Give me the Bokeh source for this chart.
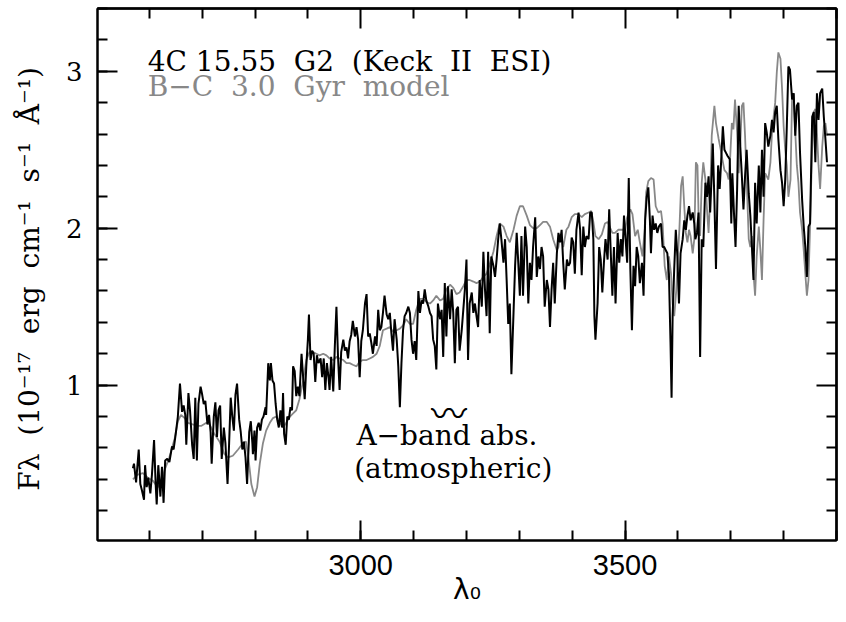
import math
from bokeh.plotting import figure
from bokeh.models import Label, LinearAxis, SingleIntervalTicker, FixedTicker, Range1d
from bokeh.embed import file_html
from bokeh.resources import INLINE

# ---------------- data ----------------
obs_wave = [2569,2571,2575,2580,2583,2586,2590,2592,2595,2598,2602,2605,2609,2612,2614,2617,2621,2624,2627,2630,
            2634,2638,2643,2646,2650,2654,2658,2662,2665,2668,2670,2674,2677,2681,2684,2687,2690,2693,2697,2700,
            2703,2706,2710,2713,2716,2718,2722,2725,2728,2731,2734,2737,2741,2744,2748,2751,2754,2757,2760,2763,
            2766,2770,2773,2776,2779,2782,2785,2789,2792,2795,
            2796,2799,2801,2804,2807,2810,2813,2816,2820,2821,2825,2828,2830,2833,2836,2839,2842,2845,2848,2851,
            2853,2855,2858,2861,2864,2867,2870,2872,2875,2878,2881,2884,2888,2891,2894,2897,2900,2902,2905,2908,
            2911,2914,2917,2920,2924,2927,2930,2933,2936,2939,2941,2944,2948,2951,2954,2957,2960,2963,2967,2970,
            2973,2976,2979,2982,2985,2989,2992,2995,2998,3001,3004,3008,3011,3014,3017,3020,3023,3027,3030,3033,
            3036,3039,3042,3045,3049,3052,3055,3058,3061,3064,3068,3071,3074,3077,3080,3083,3086,3090,3093,
            3096,3099,3102,3105,3109,3112,3115,3118,3121,3124,3128,3131,3134,3137,3140,3143,3146,3150,3153,3156,
            3159,3162,3165,3169,3172,3175,3178,3181,3184,3187,3191,3194,3197,3200,3203,3206,3210,3213,3216,3219,
            3222,3225,3229,3232,3235,3238,3241,3244,3247,3251,3254,3257,3260,3263,3266,3270,3273,3276,3279,3282,
            3285,3289,3292,3295,3298,3301,3304,3307,3311,3314,3317,3320,3323,3326,3330,3333,3336,3339,3342,3345,
            3348,3352,3355,3358,3361,3364,3367,3371,3374,3377,3380,3383,3386,
            3390,3393,3396,3399,3402,3405,3408,3412,3415,3418,3421,3424,3427,3431,3434,3437,3440,3442,3444,3448,
            3451,3454,3457,3460,3463,3467,3470,3473,3476,3479,3482,3486,3489,3492,3495,3498,3501,3504,3507,3510,
            3513,3516,3519,3522,3525,3528,3532,3535,3538,3541,3544,3547,3549,3552,3555,3558,3561,3564,3568,3571,
            3574,3577,3580,3583,3586,3588,3590,3593,3596,3599,3602,3605,3609,3612,3615,3618,3621,3624,3628,3631,
            3633,3636,3639,3642,3645,3648,3652,3655,3658,3661,3664,3666,3669,3672,3676,3679,3682,3685,3688,3691,
            3694,3698,3701,3703,3706,3709,3712,3715,3718,3721,3724,3727,3730,3734,3737,3740,3743,3746,3749,3753,
            3756,3759,3762,3765,3768,3771,3775,3778,3781,3784,3787,3790,3794,3797,3800,3803,3806,3809,3812,3816,
            3819,3822,3825,3828,3831,3835,3838,3841,3844,3847,3850,3854,3857,3860,3863,3866,3869,3873,3876,3879,
            3882]
obs_flux = [0.47,0.50,0.38,0.59,0.37,0.33,0.27,0.49,0.35,0.41,0.31,0.43,0.65,0.37,0.24,0.49,0.29,0.48,0.25,0.52,
            0.53,0.51,0.61,0.59,0.69,0.80,1.01,0.83,0.87,0.81,0.62,0.95,0.84,0.62,0.53,0.92,0.52,0.88,0.99,0.94,
            0.88,0.90,0.75,0.81,0.70,0.50,0.80,0.89,0.67,0.84,0.87,0.53,0.73,0.63,0.37,0.63,0.92,0.80,0.71,0.94,
            1.01,0.78,0.70,0.59,0.64,0.54,0.37,0.70,0.77,0.63,
            0.56,0.71,0.52,0.73,0.76,0.71,0.78,0.80,0.86,0.81,1.14,1.03,1.14,1.03,1.01,0.88,0.78,0.73,0.84,0.73,
            0.95,0.69,0.62,0.80,0.78,0.86,0.84,1.12,1.09,0.93,0.99,0.93,1.20,1.05,0.91,1.12,1.29,1.45,1.16,1.22,
            1.20,1.02,1.19,1.14,1.17,1.05,1.17,0.97,1.14,1.05,0.97,1.18,0.96,1.25,1.50,1.18,0.97,1.21,1.29,1.22,
            1.24,1.17,1.28,1.32,1.41,1.31,1.37,1.29,1.05,1.28,1.35,1.52,1.58,1.31,1.33,1.27,1.20,1.31,1.25,1.48,
            1.35,1.37,1.46,1.57,1.45,1.42,1.46,1.33,1.22,1.42,1.29,1.12,0.86,1.14,1.35,1.44,1.46,1.50,1.46,
            1.29,1.20,1.28,1.16,1.60,1.46,1.54,1.52,1.61,1.54,1.50,1.46,1.44,1.29,1.25,1.10,1.52,1.42,1.48,1.18,
            1.65,1.31,1.63,1.42,1.61,1.46,1.14,1.48,1.50,1.22,1.35,1.48,1.61,1.80,1.16,1.52,1.59,1.46,1.52,1.44,
            1.37,1.67,1.50,1.85,1.61,1.44,1.85,1.33,1.82,1.76,1.69,1.80,1.93,2.03,1.93,1.78,1.93,1.67,1.39,1.52,
            1.07,1.46,1.76,1.97,1.78,1.57,1.95,1.57,2.01,1.88,1.52,1.78,1.67,1.88,2.07,1.69,1.82,1.74,1.88,1.82,
            1.50,1.67,1.61,1.37,1.61,1.78,1.52,1.84,1.97,1.91,1.99,1.78,1.61,
            1.80,1.76,1.78,1.94,1.91,1.71,1.99,2.10,1.99,1.70,2.01,1.88,1.95,1.93,2.10,2.10,1.93,1.44,1.29,1.52,
            1.88,1.80,1.59,1.78,1.93,1.80,2.12,1.84,1.57,1.88,1.52,1.97,1.78,1.93,1.82,2.08,1.93,1.78,2.32,1.74,
            1.35,1.76,1.63,1.88,1.82,1.65,1.78,1.57,2.05,2.20,2.26,2.05,1.84,2.08,1.99,2.03,1.97,2.01,2.03,1.88,
            1.88,1.86,1.84,1.71,1.27,0.92,1.44,1.74,1.99,1.82,1.52,1.84,1.93,2.05,1.99,2.08,2.14,2.05,2.10,2.03,
            1.93,1.97,2.10,1.18,1.93,1.88,2.29,2.20,2.33,2.10,2.35,2.54,2.18,1.74,2.40,2.25,2.44,2.65,2.50,2.48,
            2.46,2.44,2.03,2.35,2.10,1.88,2.25,2.78,2.52,2.33,2.12,2.33,2.50,2.22,2.08,1.88,1.67,2.29,2.03,2.40,
            2.10,2.50,2.20,2.67,2.61,2.52,2.59,2.69,2.61,2.74,2.78,2.57,2.37,2.29,2.14,2.31,2.65,3.03,3.01,2.82,
            2.86,2.59,2.78,2.80,2.48,2.18,2.01,1.88,1.69,2.01,2.03,2.71,2.74,2.42,2.86,2.69,2.86,2.89,2.71,2.57,
            2.42]

model_wave = [2569,2578,2588,2597,2607,2616,2622,2629,2638,2648,2654,2660,2667,2673,2682,2692,2698,2708,2714,2723,
              2733,2742,2749,2758,2768,2777,2783,2788,2793,
              2799,2804,2809,2815,2821,2828,2834,2840,2847,2853,2859,2866,2872,2878,2884,2891,2897,2903,2910,2916,
              2922,2929,2935,2941,2948,2954,2960,2967,2973,2979,2985,2992,2998,3004,3011,3017,3023,3030,3036,3042,
              3049,3055,3061,3068,3074,3080,3086,3093,
              3099,3105,3112,3118,3124,3131,3137,3143,3150,3156,3162,3169,3175,3181,3187,3194,3200,3206,3213,3219,
              3225,3232,3238,3244,3251,3257,3263,3270,3276,3282,3289,3295,3301,3307,3314,3320,3326,3333,3339,3345,
              3352,3358,3364,3371,3374,3377,3380,3383,3389,
              3393,3399,3405,3412,3418,3424,3431,3436,3440,3444,3450,3456,3462,3467,3472,3476,3481,3487,3494,3500,
              3504,3510,3514,3519,3524,3528,3533,3537,3540,3544,3549,3554,3558,3563,3568,3571,3575,3579,3583,3587,
              3590,3593,3597,3600,3603,3606,3609,3612,3615,3618,3621,3624,3628,3631,
              3634,3637,3639,3642,3645,3648,3652,3655,3658,3661,3664,3669,3672,3677,3681,3684,3688,3693,3696,3699,
              3702,3705,3708,3712,3715,3718,3721,3724,3727,3730,3734,3737,3740,3743,3746,3749,3753,3756,3759,3762,
              3765,3768,3771,3775,3778,3781,3784,3787,3790,3794,3797,3800,3803,3806,3809,3813,3816,3819,3822,3825,
              3828,3831,3835,3838,3841,3844,3847,3850,3854,3857,3860,3863,3866,3869,3873,3876,3879,3882]
model_flux = [0.40,0.43,0.44,0.41,0.39,0.35,0.37,0.46,0.54,0.66,0.77,0.81,0.79,0.76,0.75,0.74,0.74,0.76,0.75,0.69,
              0.64,0.56,0.54,0.55,0.59,0.63,0.64,0.52,0.37,
              0.29,0.35,0.50,0.63,0.71,0.76,0.79,0.80,0.76,0.73,0.76,0.80,0.82,0.84,0.91,1.03,1.16,1.21,1.21,1.20,
              1.19,1.20,1.19,1.17,1.16,1.18,1.17,1.16,1.14,1.14,1.13,1.12,1.15,1.16,1.16,1.17,1.18,1.20,1.25,1.35,
              1.36,1.37,1.34,1.35,1.36,1.38,1.42,1.39,
              1.39,1.48,1.55,1.55,1.53,1.52,1.54,1.57,1.54,1.55,1.61,1.64,1.62,1.58,1.59,1.63,1.67,1.67,1.66,1.65,
              1.66,1.69,1.71,1.77,1.85,1.95,2.03,2.01,1.95,1.91,1.99,2.08,2.14,2.14,2.08,2.02,2.00,2.00,2.02,2.04,
              2.04,2.01,1.93,1.86,1.88,1.96,1.94,1.88,1.99,
              2.01,2.07,2.09,2.09,2.07,2.09,2.10,2.11,2.04,1.95,1.93,1.96,2.03,2.04,2.00,1.97,1.97,1.99,1.99,1.99,
              2.07,2.12,2.09,1.95,1.99,1.91,1.82,1.99,2.23,2.30,2.32,2.31,2.14,2.10,2.11,2.03,1.76,1.67,1.82,1.71,
              1.52,1.44,1.61,1.82,2.01,2.27,2.33,2.14,1.97,1.91,1.99,1.95,1.84,1.93,
              2.42,2.40,2.10,1.95,2.29,2.42,2.31,2.12,1.97,2.20,2.59,2.78,2.67,2.57,2.50,2.44,2.37,2.35,2.31,2.46,
              2.67,2.63,2.82,2.61,2.35,2.54,2.78,2.80,2.59,2.31,1.93,1.88,1.95,1.71,1.57,1.82,2.01,1.86,1.67,2.05,
              2.35,2.33,2.31,2.42,2.61,2.71,2.80,2.99,3.12,3.08,2.89,2.65,2.50,2.40,2.20,2.31,2.84,2.86,2.61,2.40,
              2.29,2.10,1.99,1.86,1.71,1.57,1.67,2.01,2.52,2.74,2.76,2.61,2.40,2.25,2.52,2.65,2.67,2.59]

x_major_step = 500
x_minor_step = 100
y_major_step = 1
y_minor_step = 0.2
legend_obs = "4C 15.55\u00a0 G2\u00a0 (Keck\u00a0 II\u00a0 ESI)"
legend_model = "B\u2212C\u00a0 3.0\u00a0 Gyr\u00a0 model"
note_line1 = "A\u2212band abs."
note_line2 = "(atmospheric)"
x_title = "\u03bb\u2080"
y_title = "F\u03bb\u00a0 (10\u207b\u00b9\u2077\u00a0 erg\u00a0 cm\u207b\u00b9\u00a0 s\u207b\u00b9\u00a0 \u00c5\u207b\u00b9)\u00a0"

X0, X1 = 2502, 3900
Y0, Y1 = 0.01, 3.4

# ---------------- figure ----------------
p = figure(width=838, height=614,
           x_range=Range1d(X0, X1), y_range=Range1d(Y0, Y1),
           x_axis_type=None, y_axis_type=None,
           output_backend="svg", toolbar_location=None,
           min_border_left=97, min_border_right=2, min_border_top=8, min_border_bottom=74)
p.grid.visible = False
p.outline_line_color = "black"
p.outline_line_width = 2
p.background_fill_color = "white"
p.border_fill_color = "white"

def style(ax, major_len=20, minor_len=10):
    ax.major_tick_in = major_len
    ax.major_tick_out = 0
    ax.minor_tick_in = minor_len
    ax.minor_tick_out = 0
    ax.major_tick_line_width = 2
    ax.minor_tick_line_width = 2
    ax.axis_line_width = 2
    ax.major_tick_line_color = "black"
    ax.minor_tick_line_color = "black"
    ax.axis_line_color = "black"

bx = LinearAxis(ticker=SingleIntervalTicker(interval=x_major_step, num_minor_ticks=5))
style(bx)
bx.major_label_text_font = "Liberation Sans"
bx.major_label_text_font_size = "29px"
bx.major_label_text_color = "black"
bx.major_label_standoff = 14
bx.axis_label = x_title
bx.axis_label_text_font = "DejaVu Sans"
bx.axis_label_text_font_size = "28px"
bx.axis_label_text_font_style = "normal"
bx.axis_label_text_color = "black"
bx.axis_label_standoff = -5
p.add_layout(bx, "below")

ly = LinearAxis(ticker=SingleIntervalTicker(interval=y_major_step, num_minor_ticks=5))
style(ly)
ly.major_label_text_font = "DejaVu Serif"
ly.major_label_text_font_size = "26px"
ly.major_label_text_color = "black"
ly.major_label_standoff = 15
ly.axis_label = y_title
ly.axis_label_text_font = "DejaVu Serif"
ly.axis_label_text_font_size = "28px"
ly.axis_label_text_font_style = "normal"
ly.axis_label_text_color = "black"
ly.axis_label_standoff = 17
p.add_layout(ly, "left")

# tick marks on the top and right sides (no labels): drawn as minor ticks
n_x = int(round((X1 - 2500) / x_minor_step))
x_all = [2500 + i * x_minor_step for i in range(n_x + 1)]
x_maj = [v for v in x_all if v % x_major_step == 0]
x_min = [v for v in x_all if v % x_major_step != 0]
n_y = int(round(3.4 / y_minor_step))
y_all = [round(i * y_minor_step, 1) for i in range(n_y + 1)]
y_maj = [v for v in y_all if abs(v - round(v)) < 1e-6]
y_min = [v for v in y_all if abs(v - round(v)) >= 1e-6]

for side, majs, mins in (("above", x_maj, x_min), ("right", y_maj, y_min)):
    a1 = LinearAxis(ticker=FixedTicker(ticks=[], minor_ticks=majs))
    style(a1, minor_len=20)
    p.add_layout(a1, side)
    a2 = LinearAxis(ticker=FixedTicker(ticks=[], minor_ticks=mins))
    style(a2, minor_len=10)
    p.add_layout(a2, side)

# ---------------- spectra ----------------
p.line(model_wave, model_flux, line_color="#888888", line_width=1.8)
p.line(obs_wave, obs_flux, line_color="black", line_width=2)

# ---------------- texts ----------------
serif = "DejaVu Serif"
p.add_layout(Label(x=2597, y=3.064, text=legend_obs, text_font=serif,
                   text_font_size="28px", text_color="black", text_baseline="alphabetic"))
p.add_layout(Label(x=2597, y=2.905, text=legend_model, text_font=serif,
                   text_font_size="28px", text_color="#888888", text_baseline="alphabetic"))

p.add_layout(Label(x=3167, y=0.835, text="\u3030", text_font="Noto Sans CJK JP",
                   text_font_size="36px", text_color="black",
                   text_align="center", text_baseline="middle"))
p.add_layout(Label(x=3163, y=0.68, text=note_line1, text_font=serif,
                   text_font_size="28px", text_color="black",
                   text_align="center", text_baseline="alphabetic"))
p.add_layout(Label(x=3175, y=0.47, text=note_line2, text_font=serif,
                   text_font_size="28px", text_color="black",
                   text_align="center", text_baseline="alphabetic"))

open("out.html", "w").write(file_html(p, INLINE))
